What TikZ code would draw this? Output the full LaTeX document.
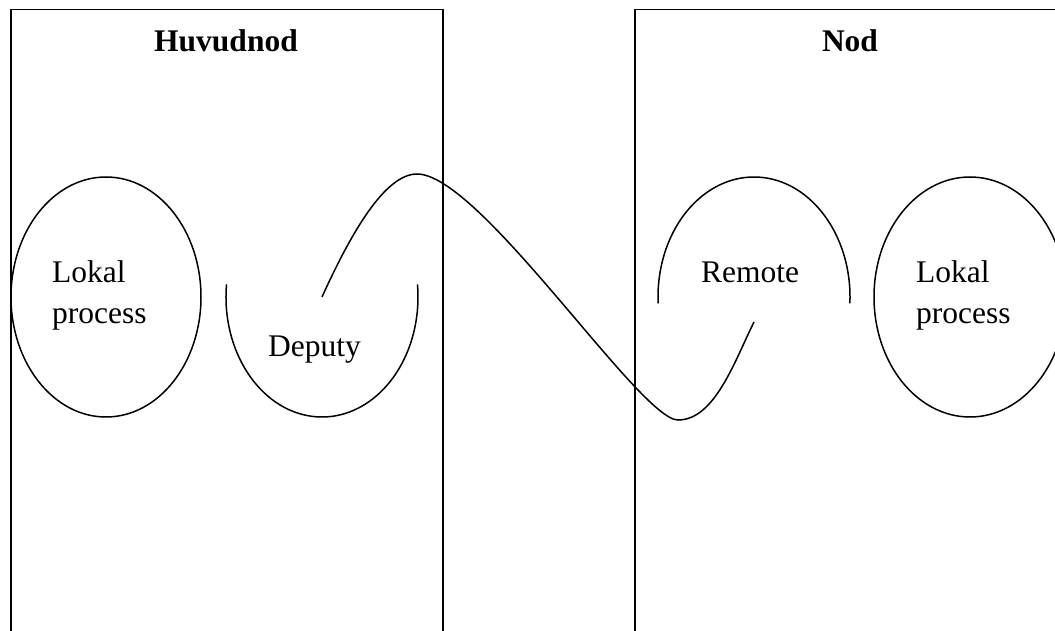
\documentclass[tikz,border=0pt]{standalone}
\usepackage{fontspec}
\setmainfont{Liberation Serif}
\usetikzlibrary{shapes.geometric}
\tikzset{
  frame/.style={draw, line width=1.5pt, rectangle, inner sep=0pt, minimum width=432pt, minimum height=640pt, anchor=north west},
  title/.style={font=\fontsize{31.5}{38}\selectfont\bfseries, anchor=base, inner sep=0pt},
  label/.style={font=\fontsize{31.5}{41}\selectfont, align=left, anchor=base west, inner sep=0pt},
  proc/.style={draw, ellipse, line width=1.5pt, minimum width=190pt, minimum height=240pt, inner sep=0pt},
  wire/.style={line width=1.5pt},
}
\begin{document}
\begin{tikzpicture}[x=1pt,y=1pt]
\useasboundingbox (0,0) rectangle (1055,630);
\clip (0,0) rectangle (1055,630);
% frames
\node[frame] (huvud) at (10,621) {};
\node[frame] (nod) at (634,621) {};
\node[title] (huvudT) at (226,578) {Huvudnod};
\node[title] (nodT) at (850,578) {Nod};
% processes
\node[proc] (lokL) at (106,333) {};
\node[proc, minimum width=192pt] (lokR) at (970,333) {};
\node[label] (lokLT) at (52,306) {Lokal\\process};
\node[label] (lokRT) at (916,306) {Lokal\\process};
% deputy and remote half ellipses
\coordinate (dep) at (322,333);
\coordinate (rem) at (754,333);
\draw[wire] ([shift={(174:96 and 120)}]dep) arc[start angle=174, end angle=366, x radius=96, y radius=120];
\draw[wire] ([shift={(-3:96 and 120)}]rem) arc[start angle=-3, end angle=183, x radius=96, y radius=120];
\node[label] (depT) at (268,273) {Deputy};
\node[label] (remT) at (701,347) {Remote};
% connecting curve
\coordinate (remEnd) at (754,308);
\draw[wire] (dep) .. controls (351,397) and (385,456) .. (417,456)
  .. controls (480,456) and (640,210) .. (678,210)
  .. controls (715,210) and (735,270) .. (remEnd);
\end{tikzpicture}
\end{document}
